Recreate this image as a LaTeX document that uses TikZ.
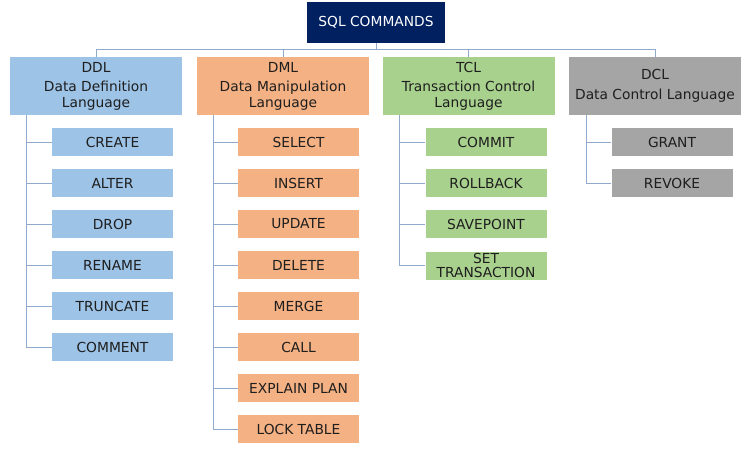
\documentclass[tikz,border=0pt]{standalone}
\usepackage{fontspec}
\setmainfont{DejaVu Sans}
\definecolor{cblue}{HTML}{9DC3E6}
\definecolor{corange}{HTML}{F4B183}
\definecolor{cgreen}{HTML}{A9D18E}
\definecolor{cgray}{HTML}{A5A5A5}
\definecolor{cnavy}{HTML}{002060}
\definecolor{cline}{HTML}{8FAACC}
\definecolor{ctext}{HTML}{1E1E1E}
\begin{document}
\begin{tikzpicture}[x=1pt,y=-1pt,
  every node/.style={font=\fontsize{13.8}{15.5}\selectfont, text=ctext, inner sep=0pt, align=center},
  rootbox/.style={fill=cnavy, text=white, minimum width=138pt, minimum height=41pt},
  catbox/.style={minimum width=172pt, minimum height=58pt},
  leafbox/.style={minimum width=121pt, minimum height=28pt},
  conn/.style={draw=cline, line width=0.8pt}]
\useasboundingbox (0,0) rectangle (750,450);
\node[rootbox] (root) at (376,22.5) {SQL COMMANDS};
\coordinate (bus) at (376,49);
\node[catbox, fill=cblue] (ddl) at (96,86) {DDL\\[4pt]Data Definition\\Language};
\node[catbox, fill=corange] (dml) at (283,86) {DML\\[4pt]Data Manipulation\\Language};
\node[catbox, fill=cgreen] (tcl) at (468.5,86) {TCL\\[4pt]Transaction Control\\Language};
\node[catbox, fill=cgray] (dcl) at (655,86) {DCL\\[4pt]Data Control Language};
\foreach \c in {ddl,dml,tcl,dcl}
  \draw[conn] (root.south) -- (root.south |- bus) -| (\c.north);
% DDL leaves
\coordinate (ddlx) at (26,115);
\foreach \n/\t [count=\i from 0] in {create/CREATE,alter/ALTER,drop/DROP,rename/RENAME,truncate/TRUNCATE,comment/COMMENT}{
  \node[leafbox, fill=cblue] (\n) at (112.5,142+41*\i) {\t};
  \draw[conn] (ddlx) |- (\n.west);
}
% DML leaves
\coordinate (dmlx) at (213,115);
\foreach \n/\t [count=\i from 0] in {select/SELECT,insert/INSERT,update/UPDATE,delete/DELETE,merge/MERGE,call/CALL,explain/EXPLAIN PLAN,lock/LOCK TABLE}{
  \node[leafbox, fill=corange] (\n) at (298.5,142+41*\i) {\t};
  \draw[conn] (dmlx) |- (\n.west);
}
% TCL leaves
\coordinate (tclx) at (399,115);
\foreach \n/\t [count=\i from 0] in {commit/COMMIT,rollback/ROLLBACK,savepoint/SAVEPOINT}{
  \node[leafbox, fill=cgreen] (\n) at (486,142+41*\i) {\t};
  \draw[conn] (tclx) |- (\n.west);
}
\node[leafbox, fill=cgreen, font=\fontsize{13.8}{13.5}\selectfont] (settr) at (486,265.5) {SET\\TRANSACTION};
\draw[conn] (tclx) |- (settr.west);
% DCL leaves
\coordinate (dclx) at (586,115);
\foreach \n/\t [count=\i from 0] in {grant/GRANT,revoke/REVOKE}{
  \node[leafbox, fill=cgray] (\n) at (672,142+41*\i) {\t};
  \draw[conn] (dclx) |- (\n.west);
}
\end{tikzpicture}
\end{document}
